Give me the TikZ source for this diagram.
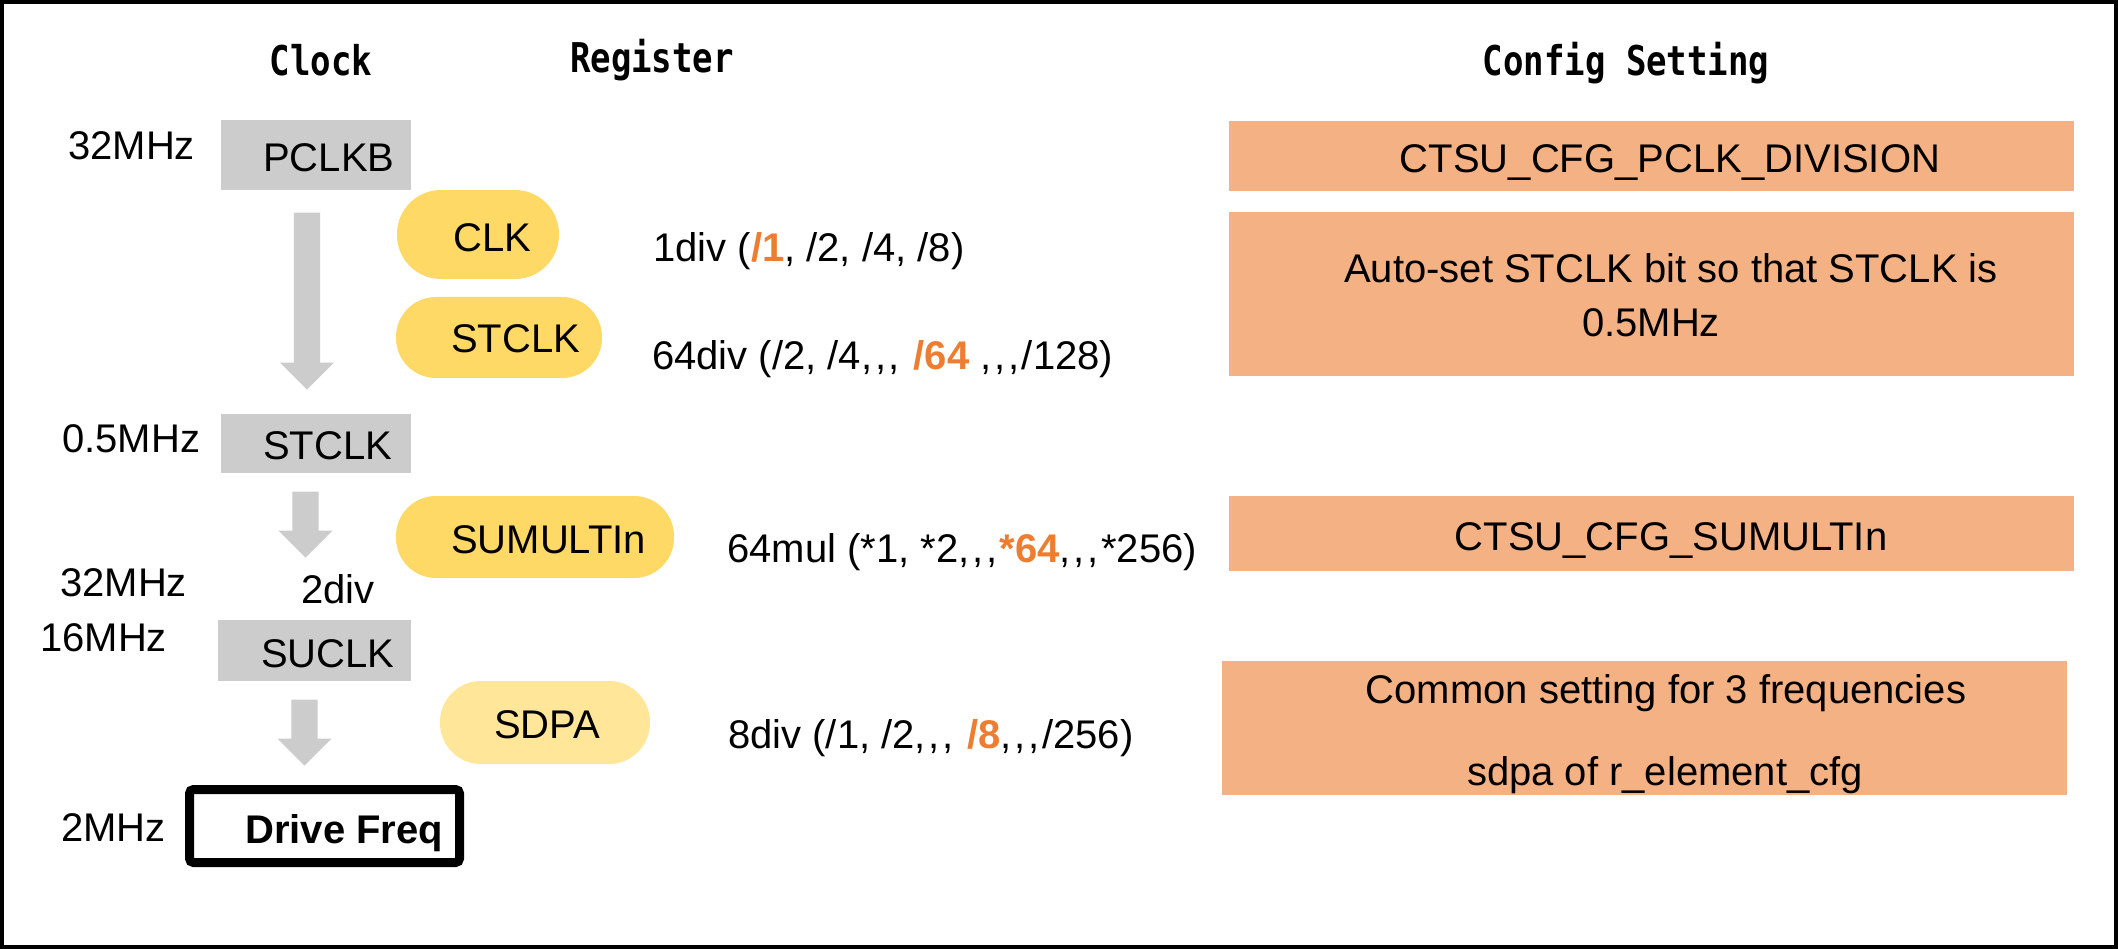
\documentclass[tikz,border=0pt]{standalone}
\usepackage{fontspec}
\setmainfont{Liberation Sans}
\newfontfamily\headfont[FakeStretch=0.83]{DejaVu Sans Mono}
\usetikzlibrary{shapes.arrows}
\definecolor{boxgray}{HTML}{CCCCCC}
\definecolor{pillyel}{HTML}{FFD966}
\definecolor{pilllt}{HTML}{FFE699}
\definecolor{cfgorange}{HTML}{F4B183}
\definecolor{hiorange}{HTML}{ED7D31}
\newcommand{\hiOr}[1]{\textcolor{hiorange}{\bfseries #1}}
\newcommand{\ccc}{,\kern2.7pt,\kern2.7pt,\kern2.7pt}
\begin{document}
\begin{tikzpicture}[x=1pt,y=-1pt,
  txt/.style={inner sep=0pt, font=\fontsize{40}{48}\selectfont},
  head/.style={inner sep=0pt, font=\headfont\bfseries\fontsize{41}{48}\selectfont},
  graybox/.style={rectangle, fill=boxgray, inner sep=0pt},
  pill/.style={rectangle, fill=pillyel, inner sep=0pt},
  cfgbox/.style={rectangle, fill=cfgorange, inner sep=0pt},
  downarrow/.style={single arrow, fill=boxgray, inner sep=0pt, inner ysep=13pt,
    single arrow head extend=14pt, single arrow tip angle=90, rotate=-90, anchor=tip}]
\useasboundingbox (0,0) rectangle (2118,949);
\fill[white] (0,0) rectangle (2118,949);
\draw[line width=4pt] (2,2) rectangle (2116,947);

% headings
\node[head, anchor=base] (hclock) at (321,76) {Clock};
\node[head, anchor=base] (hreg) at (652,73) {Register};
\node[head, anchor=base] (hcfg) at (1626,76) {Config Setting};

% frequency labels
\node[txt, anchor=base west] (f1) at (68,160) {32MHz};
\node[txt, anchor=base west] (f2) at (62,453) {0.5MHz};
\node[txt, anchor=base west] (f3) at (60,596) {32MHz};
\node[txt, anchor=base west] (f4) at (301,603) {2div};
\node[txt, anchor=base west] (f5) at (40,651) {16MHz};
\node[txt, anchor=base west] (f6) at (61,841) {2MHz};

% clock boxes
\node[graybox, minimum width=190pt, minimum height=70pt] (pclkb) at (316,155) {};
\node[txt, anchor=base west] (pclkbt) at (263,172) {PCLKB};
\node[graybox, minimum width=190pt, minimum height=59pt] (stclkb) at (316,443.5) {};
\node[txt, anchor=base west] (stclkbt) at (263,459) {STCLK};
\node[graybox, minimum width=193pt, minimum height=61pt] (suclk) at (314.5,650.5) {};
\node[txt, anchor=base west] (suclkt) at (261,667) {SUCLK};
\node[rectangle, draw, line width=9pt, rounded corners=4pt, minimum width=270pt, minimum height=73pt, inner sep=0pt] (drive) at (324.5,826) {};
\node[txt, anchor=base west, font=\fontsize{40}{48}\selectfont\bfseries] (drivet) at (245,843) {Drive Freq};

% arrows
\node[downarrow, minimum height=177pt, minimum width=54pt] (a1) at (307,390) {};
\node[downarrow, minimum height=66pt, minimum width=54pt] (a2) at (305.5,558) {};
\node[downarrow, minimum height=66pt, minimum width=54pt] (a3) at (304.5,766) {};

% register pills
\node[pill, rounded corners=44pt, minimum width=162pt, minimum height=89pt] (clk) at (478,234.5) {};
\node[txt, anchor=base west] (clkt) at (453,252) {CLK};
\node[pill, rounded corners=40pt, minimum width=206pt, minimum height=81pt] (stclk) at (499,337.5) {};
\node[txt, anchor=base west] (stclkt) at (451,353) {STCLK};
\node[pill, rounded corners=40pt, minimum width=278pt, minimum height=82pt] (sumult) at (535,537) {};
\node[txt, anchor=base west] (sumultt) at (451,553) {SUMULTIn};
\node[pill, fill=pilllt, rounded corners=41pt, minimum width=210pt, minimum height=83pt] (sdpa) at (545,722.5) {};
\node[txt, anchor=base west] (sdpat) at (494,738) {SDPA};

% register values
\node[txt, anchor=base west] (v1) at (653,262) {1div (\hiOr{/1}, /2, /4, /8)};
\node[txt, anchor=base west] (v2) at (652,370) {64div (/2, /4\ccc{} \hiOr{/64} \ccc/128)};
\node[txt, anchor=base west] (v3) at (727,562) {64mul (*1, *2\ccc\hiOr{*64}\ccc*256)};
\node[txt, anchor=base west] (v4) at (728,748) {8div (/1, /2\ccc{} \hiOr{/8}\ccc/256)};

% config boxes
\node[cfgbox, minimum width=845pt, minimum height=70pt] (c1) at (1651.5,156) {};
\node[txt, anchor=base] (c1t) at (1670,173) {CTSU\_CFG\_PCLK\_DIVISION};
\node[cfgbox, minimum width=845pt, minimum height=164pt] (c2) at (1651.5,294) {};
\node[txt, anchor=base] (c2a) at (1671,283) {Auto-set STCLK bit so that STCLK is};
\node[txt, anchor=base] (c2b) at (1651,337) {0.5MHz};
\node[cfgbox, minimum width=845pt, minimum height=75pt] (c3) at (1651.5,533.5) {};
\node[txt, anchor=base] (c3t) at (1671,550) {CTSU\_CFG\_SUMULTIn};
\node[cfgbox, minimum width=845pt, minimum height=134pt] (c4) at (1644.5,728) {};
\node[txt, anchor=base] (c4a) at (1666,703) {Common setting for 3 frequencies};
\node[txt, anchor=base] (c4b) at (1665,785) {sdpa of r\_element\_cfg};
\end{tikzpicture}
\end{document}
